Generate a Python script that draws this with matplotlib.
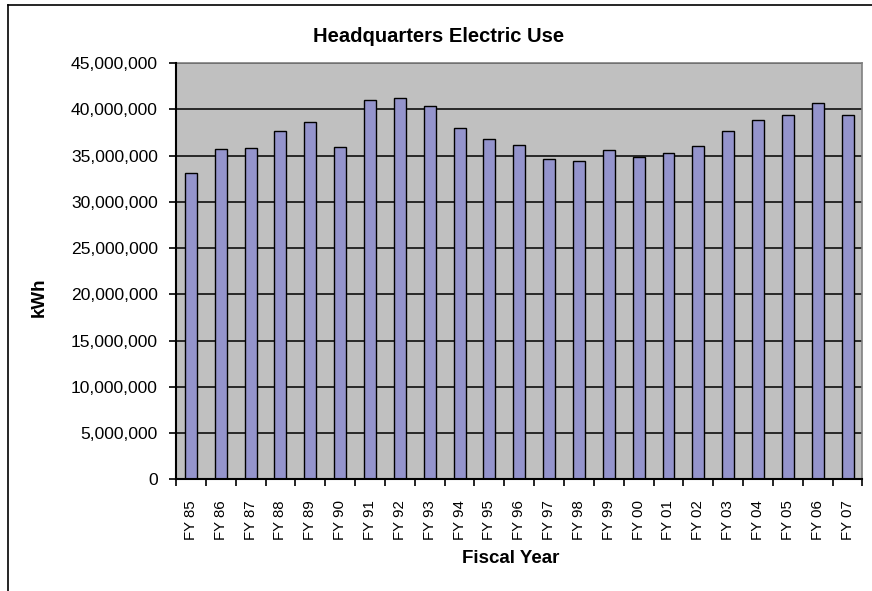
import matplotlib
matplotlib.use('Agg')
import matplotlib.pyplot as plt
from matplotlib.ticker import FuncFormatter, MultipleLocator
from matplotlib.lines import Line2D

plt.rcParams['font.family'] = ['Liberation Sans', 'DejaVu Sans']

# fiscal years and yearly electric use (kWh)
years = ['FY 85', 'FY 86', 'FY 87', 'FY 88', 'FY 89', 'FY 90', 'FY 91', 'FY 92',
         'FY 93', 'FY 94', 'FY 95', 'FY 96', 'FY 97', 'FY 98', 'FY 99', 'FY 00',
         'FY 01', 'FY 02', 'FY 03', 'FY 04', 'FY 05', 'FY 06', 'FY 07']
kwh = [33150000, 35680000, 35820000, 37650000, 38660000, 35960000, 41040000,
       41180000, 40320000, 37940000, 36820000, 36100000, 34590000, 34450000,
       35570000, 34880000, 35280000, 36000000, 37690000, 38840000, 39380000,
       40680000, 39380000]


#----------------------------------------------------------------------
def comma_fmt(v, pos):
    """
    thousands separator like excel
    """
    return '{:,.0f}'.format(v)


#----------------------------------------------------------------------
def main():
    fig = plt.figure(figsize=(8.72, 5.91), dpi=100)
    ax = fig.add_axes([0.2018, 0.1887, 0.7873, 0.7047])

    x = list(range(len(years)))
    ax.set_facecolor('#C0C0C0')
    ax.bar(x, kwh, width=0.4, color='#9494CC', edgecolor='black',
           linewidth=1.0, zorder=3)

    ax.set_xlim(-0.5, len(years) - 0.5)
    ax.set_ylim(0, 45000000)

    # y axis
    ax.yaxis.set_major_locator(MultipleLocator(5000000))
    ax.yaxis.set_major_formatter(FuncFormatter(comma_fmt))
    ax.tick_params(axis='y', direction='out', length=5, width=1.2,
                   labelsize=12.6, pad=8)
    ax.grid(axis='y', color='black', linewidth=1.1, zorder=1)

    # x axis: labels at centres, tick marks between categories
    ax.set_xticks(x)
    ax.set_xticklabels(years, rotation=90, fontsize=10.8)
    ax.tick_params(axis='x', which='major', length=0, pad=15)
    ax.set_xticks([i - 0.5 for i in range(len(years) + 1)], minor=True)
    ax.tick_params(axis='x', which='minor', direction='out', length=5, width=1.2)

    for side in ['top', 'right']:
        ax.spines[side].set_color('#808080')
        ax.spines[side].set_linewidth(1.2)
    for side in ['left', 'bottom']:
        ax.spines[side].set_color('black')
        ax.spines[side].set_linewidth(1.5)
        ax.spines[side].set_zorder(4)

    fig.text(0.503, 0.9374, 'Headquarters Electric Use', ha='center',
             va='center', fontsize=14.5, fontweight='bold')
    fig.text(0.586, 0.055, 'Fiscal Year', ha='center', va='center',
             fontsize=13.5, fontweight='bold')
    fig.text(0.0447, 0.4975, 'kWh', ha='center', va='center', rotation=90,
             fontsize=13.5, fontweight='bold')

    # chart area border (only top and left show in the picture)
    fig.add_artist(Line2D([7.5 / 872, 1.0], [1 - 4.5 / 591, 1 - 4.5 / 591],
                          transform=fig.transFigure, color='black', linewidth=1.2))
    fig.add_artist(Line2D([7.5 / 872, 7.5 / 872], [0.0, 1 - 4.5 / 591],
                          transform=fig.transFigure, color='black', linewidth=1.2))

    fig.savefig('out.png', dpi=100)


if __name__ == '__main__':
    main()
